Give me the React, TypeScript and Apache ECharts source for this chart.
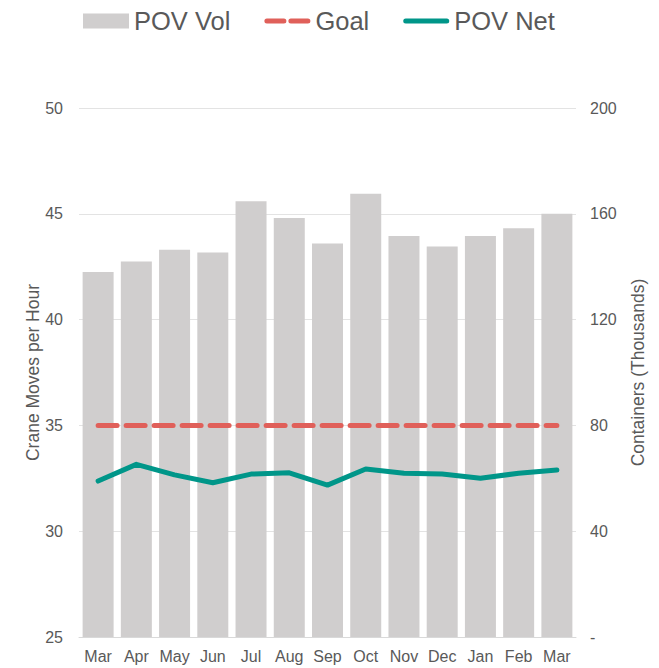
import React, { useEffect, useRef } from "react";
import * as echarts from "echarts";

const months = ["Mar", "Apr", "May", "Jun", "Jul", "Aug", "Sep", "Oct", "Nov", "Dec", "Jan", "Feb", "Mar"];
const povVol = [138, 142, 146.4, 145.4, 164.7, 158.4, 148.8, 167.6, 151.6, 147.6, 151.6, 154.5, 160];
const goal = [35, 35, 35, 35, 35, 35, 35, 35, 35, 35, 35, 35, 35];
const povNet = [32.37, 33.16, 32.66, 32.29, 32.7, 32.76, 32.18, 32.94, 32.74, 32.7, 32.5, 32.74, 32.89];
const leftTicks = { min: 25, max: 50, interval: 5 };
const rightTicks = { min: 0, max: 200, interval: 40 };

const FONT = "Liberation Sans, Arial, sans-serif";
const TXT = "#595959";
const GRAY = "#D0CECE";
const RED = "#E0605A";
const TEAL = "#009689";

const dashIcon =
  "path://M2.5,0H19.5A2.5,2.5,0,0,1,19.5,5H2.5A2.5,2.5,0,0,1,2.5,0Z M26.5,0H43.5A2.5,2.5,0,0,1,43.5,5H26.5A2.5,2.5,0,0,1,26.5,0Z";
const lineIcon = "path://M2.5,0H43.5A2.5,2.5,0,0,1,43.5,5H2.5A2.5,2.5,0,0,1,2.5,0Z";

export default function App() {
  const ref = useRef<HTMLDivElement>(null);
  useEffect(() => {
    const chart = echarts.init(ref.current!, null, { renderer: "svg" });
    chart.setOption({
      animation: false,
      backgroundColor: "#ffffff",
      textStyle: { fontFamily: FONT },
      legend: {
        top: 3,
        left: 78,
        itemWidth: 46,
        itemHeight: 15,
        itemGap: 34,
        symbolKeepAspect: true,
        textStyle: { fontSize: 25.5, color: TXT, fontFamily: FONT },
        data: [
          { name: "POV Vol", icon: "rect", itemStyle: { color: GRAY } },
          { name: "Goal", icon: dashIcon, itemStyle: { color: RED, borderWidth: 0 } },
          { name: "POV Net", icon: lineIcon, itemStyle: { color: TEAL, borderWidth: 0 } },
        ],
      },
      grid: { left: 79, right: 83, top: 108, bottom: 31, containLabel: false },
      xAxis: {
        type: "category",
        data: months,
        axisLine: { lineStyle: { color: "#D9D9D9", width: 1 } },
        axisTick: { show: false },
        axisLabel: { color: TXT, fontSize: 16, margin: 11, fontFamily: FONT, interval: 0 },
      },
      yAxis: [
        {
          type: "value",
          ...leftTicks,
          name: "Crane Moves per Hour",
          nameLocation: "middle",
          nameGap: 37,
          nameMoveOverlap: false,
          nameTextStyle: { color: TXT, fontSize: 17.5, fontFamily: FONT },
          axisLine: { show: false },
          axisTick: { show: false },
          axisLabel: { color: TXT, fontSize: 16, margin: 16, fontFamily: FONT },
          splitLine: { lineStyle: { color: "#E3E3E3", width: 1 } },
        },
        {
          type: "value",
          ...rightTicks,
          name: "Containers (Thousands)",
          nameLocation: "middle",
          nameGap: 53,
          nameMoveOverlap: false,
          nameRotate: 90,
          nameTextStyle: { color: TXT, fontSize: 17.5, fontFamily: FONT },
          axisLine: { show: false },
          axisTick: { show: false },
          axisLabel: {
            color: TXT,
            fontSize: 16,
            margin: 14,
            fontFamily: FONT,
            formatter: (v: number) => (v === 0 ? "-" : String(v)),
          },
          splitLine: { show: false },
        },
      ],
      series: [
        {
          name: "POV Vol",
          type: "bar",
          yAxisIndex: 1,
          data: povVol,
          barWidth: 31,
          itemStyle: { color: GRAY },
          z: 1,
        },
        {
          name: "Goal",
          type: "line",
          yAxisIndex: 0,
          data: goal,
          symbol: "none",
          lineStyle: { color: RED, width: 5, type: [19, 9], cap: "round" },
          itemStyle: { color: RED },
          z: 3,
        },
        {
          name: "POV Net",
          type: "line",
          yAxisIndex: 0,
          data: povNet,
          symbol: "none",
          lineStyle: { color: TEAL, width: 5, cap: "round", join: "round" },
          itemStyle: { color: TEAL },
          z: 4,
        },
      ],
    });
    return () => chart.dispose();
  }, []);
  return <div ref={ref} style={{ width: 659, height: 668, position: "absolute", left: 0, top: 0 }} />;
}
